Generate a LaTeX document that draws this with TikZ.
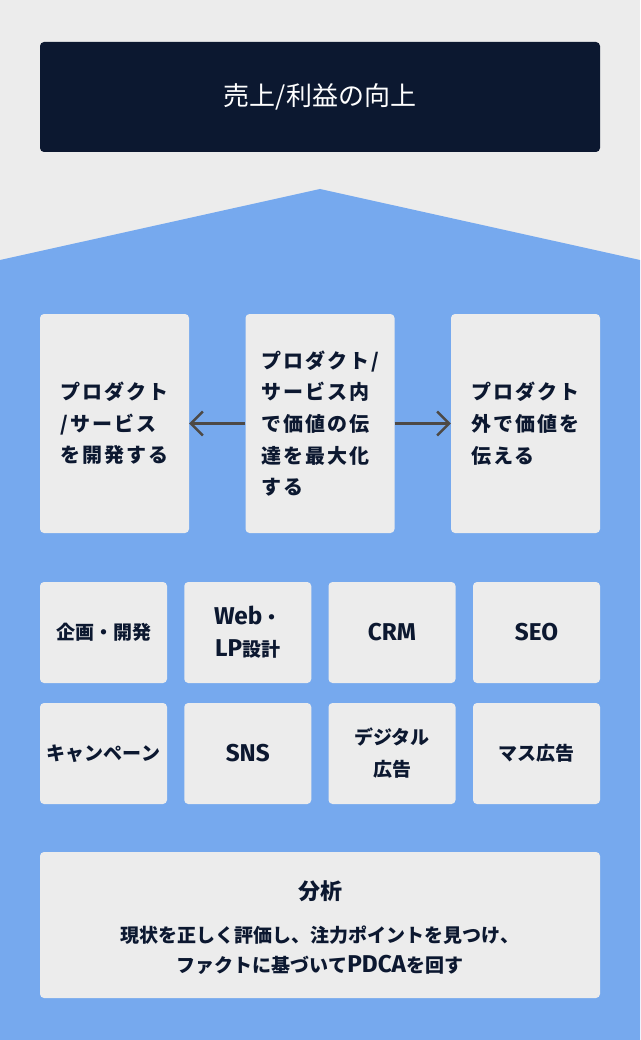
\documentclass[tikz,border=0pt]{standalone}
\usepackage{fontspec}
\setmainfont{Noto Sans CJK JP}
\newfontfamily\widejp[LetterSpace=10]{Noto Sans CJK JP}
\newfontfamily\latinface[Scale=1.28]{Fira Sans}
\newcommand\lat[1]{{\latinface #1}}
\usetikzlibrary{arrows.meta}
\definecolor{bgray}{RGB}{236,236,236}
\definecolor{skyblue}{RGB}{118,169,238}
\definecolor{navyink}{RGB}{12,24,48}
\definecolor{arrowgray}{RGB}{77,73,70}
\tikzset{
	card/.style={fill=bgray, rounded corners=4pt, text=navyink, inner sep=0pt},
	tallcard/.style={card, minimum width=149pt, minimum height=219pt, align=left, font=\widejp\bfseries\fontsize{20pt}{31.7pt}\selectfont},
	smallcard/.style={card, minimum width=127pt, minimum height=101pt, align=center, font=\bfseries\fontsize{19pt}{32pt}\selectfont},
	flow/.style={line width=2.4pt, color=arrowgray, -{Straight Barb[length=12pt,width=24pt]}}
}

\begin{document}
\begin{tikzpicture}[x=1pt, y=-1pt]
			%%%%% START %%%%%
			
			\fill[bgray] (0, 0) rectangle (640, 1040);
			\fill[skyblue] (0, 260) -- (320, 189) -- (640, 260) -- (640, 1040) -- (0, 1040) -- cycle;
			
			\node[card, fill=navyink, text=white, minimum width=560pt, minimum height=110pt, font=\fontsize{26pt}{30pt}\selectfont] (goal) at (320, 97) {売上/利益の向上};
			
			\node[tallcard] (develop) at (114.5, 423.5) {プロダクト\\/サービス\\を開発する};
			\node[tallcard] (inside) at (320, 423.5) {プロダクト/\\サービス内\\で価値の伝\\達を最大化\\する};
			\node[tallcard] (outside) at (525.5, 423.5) {プロダクト\\外で価値を\\伝える};
			
			\draw[flow] (inside) -- (develop);
			\draw[flow] (inside) -- (outside);
			
			\node[smallcard] (plan) at (103.5, 632.5) {企画・開発};
			\node[smallcard] (web) at (247.75, 632.5) {\lat{Web}・\\\lat{LP}設計};
			\node[smallcard] (crm) at (392, 632.5) {\lat{CRM}};
			\node[smallcard] (seo) at (536.5, 632.5) {\lat{SEO}};
			
			\node[smallcard] (campaign) at (103.5, 753.5) {キャンペーン};
			\node[smallcard] (sns) at (247.75, 753.5) {\lat{SNS}};
			\node[smallcard] (digital) at (392, 753.5) {デジタル\\広告};
			\node[smallcard] (mass) at (536.5, 753.5) {マス広告};
			
			\node[card, minimum width=560pt, minimum height=146pt] (analysis) at (320, 925) {};
			\node[text=navyink, font=\bfseries\fontsize{22pt}{26pt}\selectfont] (analysistitle) at (320, 891) {分析};
			\node[text=navyink, align=center, font=\bfseries\fontsize{19pt}{30pt}\selectfont] (analysisbody) at (320, 950) {現状を正しく評価し、注力ポイントを見つけ、\\ファクトに基づいて\lat{PDCA}を回す};
			
			%%%%% END %%%%%
\end{tikzpicture}
\end{document}
